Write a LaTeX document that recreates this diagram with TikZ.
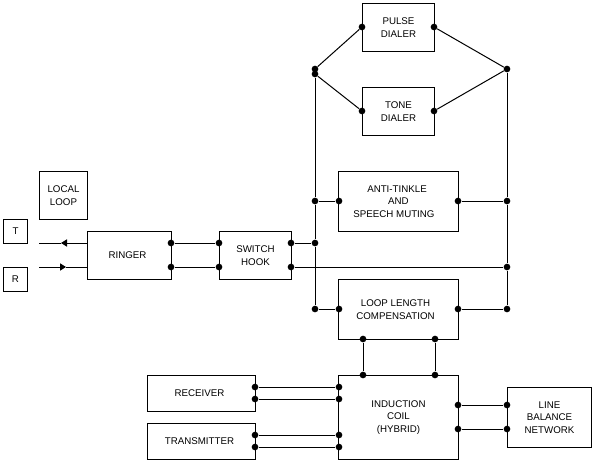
\documentclass[tikz,border=0pt]{standalone}
\usepackage{fontspec}
\setmainfont{Liberation Sans}
\usetikzlibrary{arrows.meta}
\newdimen\pxu
\pxu=0.75pt
\tikzset{
  x=0.75pt,y=-0.75pt,
  wire/.style={line width=0.75pt,black},
  blockbox/.style={draw=black,line width=0.75pt,inner sep=0pt,align=center,anchor=north west,
    font=\fontsize{7.3pt}{9.3pt}\selectfont},
  jdot/.style={circle,fill=black,draw=none,minimum size=5pt,inner sep=0pt},
  tipped/.style={wire,-{Triangle[length=4.5pt,width=5.4pt]}}
}
\newcommand{\blk}[7]{% name, x1, y1, x2, y2, extra, text
  \pgfmathsetmacro{\bw}{(#4-#2)*0.75}\pgfmathsetmacro{\bh}{(#5-#3)*0.75}
  \node[blockbox,minimum width=\bw pt,minimum height=\bh pt,#6] (#1) at (#2,#3) {#7};}
\newcommand{\jd}[3]{\node[jdot] (#1) at (#2,#3) {};}
\begin{document}
\begin{tikzpicture}
\useasboundingbox[fill=white] (0,0) rectangle (593,461);
% blocks
\blk{t}{3}{219}{27}{243}{}{T}
\blk{r}{3}{267}{27}{291}{}{R}
\blk{local}{39}{171}{87}{219}{}{LOCAL\\LOOP}
\blk{ringer}{87}{231}{171}{279}{}{RINGER\kern4\pxu}
\blk{switch}{219}{231}{291}{279}{}{SWITCH\\HOOK}
\blk{pulse}{362}{3}{434}{51}{}{PULSE\\DIALER}
\blk{tone}{362}{87}{434}{135}{}{TONE\\DIALER}
\blk{anti}{338}{171}{458}{231}{}{ANTI-TINKLE\kern3\pxu\\AND\\SPEECH MUTING\kern9\pxu}
\blk{loop}{338}{279}{458}{339}{}{LOOP LENGTH\kern6\pxu\\COMPENSATION\kern6\pxu}
\blk{coil}{338}{375}{458}{459}{}{INDUCTION\\COIL\\(HYBRID)}
\blk{receiver}{147}{375}{255}{411}{}{RECEIVER\kern4\pxu}
\blk{transmitter}{147}{423}{255}{459}{}{TRANSMITTER\kern4\pxu}
\blk{balance}{507}{387}{591}{447}{}{LINE\\BALANCE\\NETWORK}
% free ends
\coordinate (tEnd) at (39,243);
\coordinate (rEnd) at (39,267);
\coordinate (tTip) at (61,243);
\coordinate (rTip) at (66,267);
\coordinate (ringT) at (87,243);
\coordinate (ringR) at (87,267);
% junctions
\jd{ringA}{171}{243}\jd{ringB}{171}{267}
\jd{swLA}{219}{243}\jd{swLB}{219}{267}
\jd{swRA}{291}{243}\jd{swRB}{291}{267}
\jd{busLtop}{315}{69}\jd{busLlow}{315}{74}
\jd{busLanti}{315}{201}\jd{busLsw}{315}{243}\jd{busLloop}{315}{309}
\jd{busRtop}{507}{69}\jd{busRanti}{507}{201}\jd{busRsw}{507}{267}\jd{busRloop}{507}{309}
\jd{pulseL}{362}{27}\jd{pulseR}{434}{27}
\jd{toneL}{362}{111}\jd{toneR}{434}{111}
\jd{antiL}{339}{201}\jd{antiR}{458}{201}
\jd{loopL}{339}{309}\jd{loopR}{458}{309}
\jd{loopBa}{363}{339}\jd{loopBb}{435}{339}
\jd{coilTa}{363}{375}\jd{coilTb}{435}{375}
\jd{coilLa}{339}{387}\jd{coilLb}{339}{399}\jd{coilLc}{339}{435}\jd{coilLd}{339}{447}
\jd{recA}{255}{387}\jd{recB}{255}{399}
\jd{traA}{255}{435}\jd{traB}{255}{447}
\jd{coilRa}{458}{405}\jd{coilRb}{458}{429}
\jd{balA}{507}{405}\jd{balB}{507}{429}
% connectors
\draw[tipped] (ringT) -- (tTip);
\draw[wire] (tTip) -- (tEnd);
\draw[tipped] (rEnd) -- (rTip);
\draw[wire] (rTip) -- (ringR);
\draw[wire] (ringA) -- (swLA);
\draw[wire] (ringB) -- (swLB);
\draw[wire] (swRA) -- (busLsw);
\draw[wire] (swRB) -- (busRsw);
\draw[wire] (busLtop) -- (busLlow) -- (busLanti) -- (busLsw) -- (busLloop);
\draw[wire] (busRtop) -- (busRanti) -- (busRsw) -- (busRloop);
\draw[wire] (busLtop) -- (pulseL);
\draw[wire] (busLlow) -- (toneL);
\draw[wire] (pulseR) -- (busRtop);
\draw[wire] (toneR) -- (busRtop);
\draw[wire] (busLanti) -- (antiL);
\draw[wire] (antiR) -- (busRanti);
\draw[wire] (busLloop) -- (loopL);
\draw[wire] (loopR) -- (busRloop);
\draw[wire] (loopBa) -- (coilTa);
\draw[wire] (loopBb) -- (coilTb);
\draw[wire] (recA) -- (coilLa);
\draw[wire] (recB) -- (coilLb);
\draw[wire] (traA) -- (coilLc);
\draw[wire] (traB) -- (coilLd);
\draw[wire] (coilRa) -- (balA);
\draw[wire] (coilRb) -- (balB);
\end{tikzpicture}
\end{document}
